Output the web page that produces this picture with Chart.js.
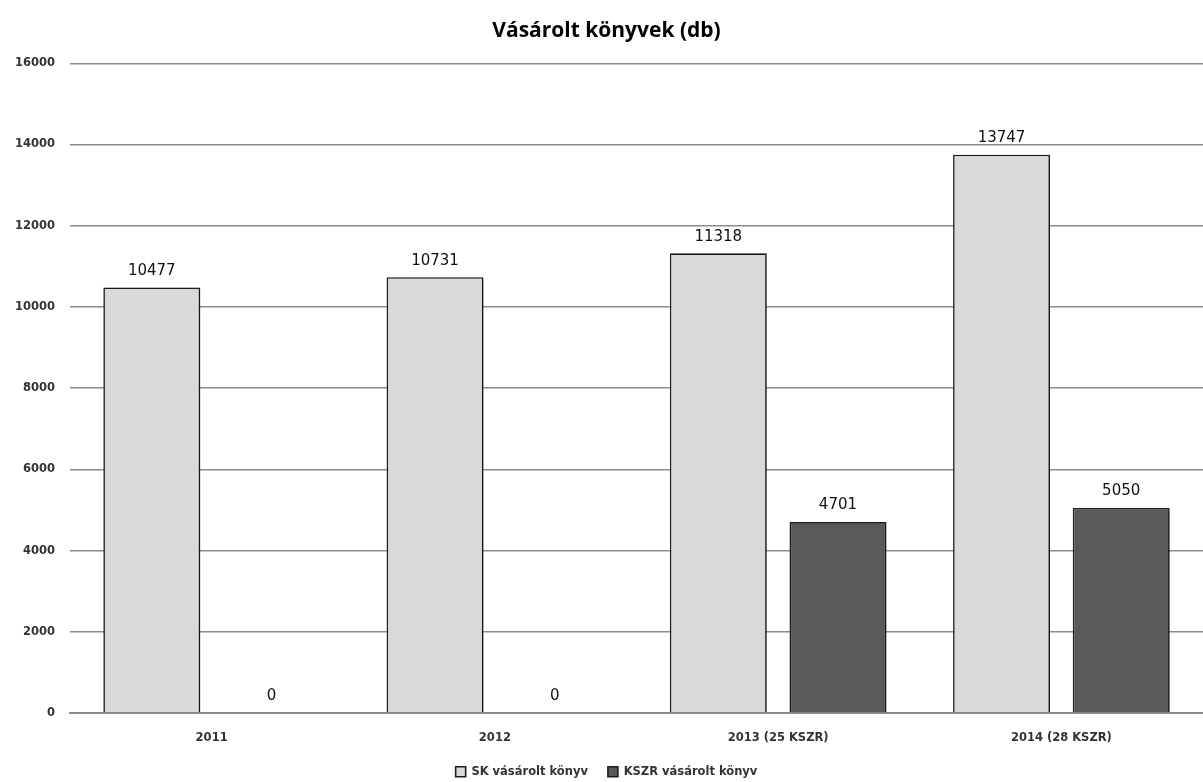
<!DOCTYPE html>
<html>
<head>
<meta charset="utf-8">
<script src="https://cdn.jsdelivr.net/npm/chart.js@4"></script>
<style>
  html, body { margin: 0; padding: 0; background: #fff; }
  #wrap { width: 1203px; height: 782px; position: relative; }
</style>
</head>
<body>
<div id="wrap"><canvas id="c"></canvas></div>
<script>
// ── Data ──
const categories = ['2011', '2012', '2013 (25 KSZR)', '2014 (28 KSZR)'];
const skBooks = [10477, 10731, 11318, 13747];
const kszrBooks = [0, 0, 4701, 5050];
const yTicks = [0, 2000, 4000, 6000, 8000, 10000, 12000, 14000, 16000];

const smallFont = { family: 'DejaVu Sans', size: 11.5, weight: 'bold' };

// legend: wide gap between items but a short box
const legendHeight = {
    id: 'legendHeight',
    afterInit(chart) {
        const lg = chart.legend;
        if (!lg) return;
        const fit = lg.fit.bind(lg);
        lg.fit = function () { fit(); this.height = 36; };
    }
};

// soft shadow to the right of bars, like the original
const barShadow = {
    id: 'barShadow',
    beforeDatasetDraw(chart) {
        const ctx = chart.ctx;
        ctx.save();
        ctx.shadowColor = 'rgba(0,0,0,0.3)';
        ctx.shadowBlur = 4;
        ctx.shadowOffsetX = 3;
        ctx.shadowOffsetY = 1;
    },
    afterDatasetDraw(chart) { chart.ctx.restore(); }
};

// value labels above each bar
const valueLabels = {
    id: 'valueLabels',
    afterDatasetsDraw(chart) {
        const ctx = chart.ctx;
        ctx.save();
        ctx.font = '15px "DejaVu Sans", sans-serif';
        ctx.fillStyle = '#111';
        ctx.textAlign = 'center';
        ctx.textBaseline = 'bottom';
        chart.data.datasets.forEach((ds, i) => {
            chart.getDatasetMeta(i).data.forEach((bar, j) => {
                ctx.fillText(String(ds.data[j]), bar.x, bar.y - 9);
            });
        });
        ctx.restore();
    }
};

new Chart(document.getElementById('c'), {
    type: 'bar',
    data: {
        labels: categories,
        datasets: [
            { label: 'SK vásárolt könyv', data: skBooks, backgroundColor: '#d9d9d9',
              borderColor: '#1e1e1e', borderWidth: 1.6, borderSkipped: 'bottom' },
            { label: 'KSZR vásárolt könyv', data: kszrBooks, backgroundColor: '#595959',
              borderColor: '#1e1e1e', borderWidth: 1.6, borderSkipped: 'bottom' }
        ]
    },
    options: {
        responsive: true, maintainAspectRatio: false, animation: false,
        categoryPercentage: 0.845, barPercentage: 0.81,
        layout: { padding: { left: 10, right: 0, top: 0, bottom: 0 } },
        scales: {
            x: {
                grid: { display: false, drawTicks: false },
                border: { display: true, color: '#8c8c8c', width: 2 },
                ticks: { color: '#333', font: smallFont, padding: 18 },
                afterFit: axis => { axis.height = 33; }
            },
            y: {
                min: 0, max: 16000,
                afterBuildTicks: axis => { axis.ticks = yTicks.map(v => ({ value: v })); },
                grid: { color: '#8c8c8c', lineWidth: 1.4, drawTicks: false },
                border: { display: false },
                ticks: { color: '#333', font: smallFont, padding: 15, callback: v => String(v) },
                afterFit: axis => { axis.width = 60; }
            }
        },
        plugins: {
            title: {
                display: true, text: 'Vásárolt könyvek (db)', color: '#000',
                font: { family: 'Open Sans', size: 21, weight: 'bold' },
                padding: { top: 18, bottom: 20 }
            },
            legend: {
                position: 'bottom',
                labels: { color: '#333', font: smallFont,
                          boxWidth: 10, boxHeight: 10, padding: 20 }
            },
            tooltip: { enabled: false }
        }
    },
    plugins: [legendHeight, barShadow, valueLabels]
});
</script>
</body>
</html>
